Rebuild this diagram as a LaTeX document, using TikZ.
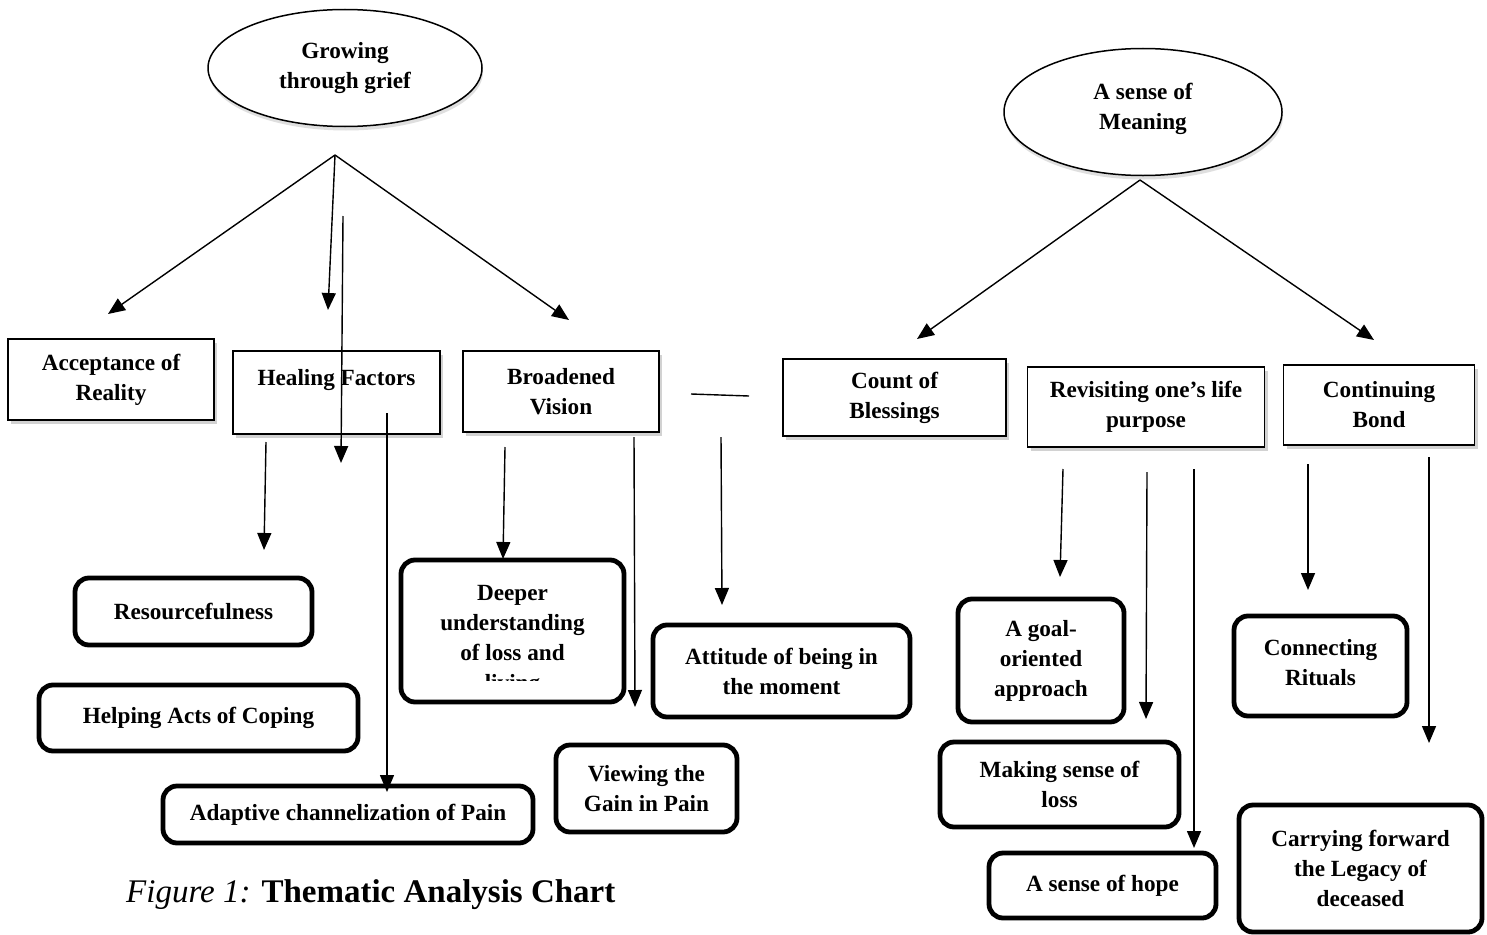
\documentclass[tikz,border=0pt]{standalone}
\usepackage{fontspec}
\setmainfont{Liberation Serif}
\usetikzlibrary{arrows.meta,shapes.geometric,shadows}
\begin{document}
\begin{tikzpicture}[x=1pt,y=-1pt,
  every node/.style={font=\fontsize{23.2}{30}\selectfont\bfseries, align=center, inner sep=0pt},
  oval/.style={ellipse, draw, line width=1.5pt, fill=white,
    drop shadow={shadow xshift=1pt, shadow yshift=-4pt, opacity=0.25}},
  rbox/.style={draw, line width=1.8pt, fill=white,
    drop shadow={shadow xshift=3pt, shadow yshift=-4pt, opacity=0.35}},
  rrbox/.style={draw, line width=4.8pt, rounded corners=14pt, fill=white},
  arr/.style={line width=1.4pt, -{Triangle[length=17pt,width=14pt]}},
  plain/.style={line width=1.4pt}
]
\useasboundingbox (0,0) rectangle (1487,934);
\fill[white] (0,0) rectangle (1487,934);

% ellipses
\node[oval, minimum width=274pt, minimum height=117pt] (grow) at (345,68) {Growing\\through grief};
\node[oval, minimum width=278pt, minimum height=127pt] (mean) at (1143,112) {A sense of\\Meaning\\[-18pt]\mbox{}};

% level-1 boxes
\node[rbox, minimum width=206pt, minimum height=81pt] (acc) at (111,379.5) {Acceptance of\\Reality};
\node[rbox, minimum width=207pt, minimum height=83pt] (heal) at (336.5,392.5) {Healing Factors\\\mbox{}};
\node[rbox, minimum width=196pt, minimum height=81pt] (broad) at (561,391.5) {Broadened\\Vision};
\node[rbox, minimum width=223pt, minimum height=77pt] (count) at (894.5,397.5) {Count of\\Blessings};
\node[rbox, minimum width=237pt, minimum height=80pt] (revis) at (1146,407) {Revisiting one’s life\\purpose};
\node[rbox, minimum width=191pt, minimum height=80pt] (cont) at (1379,405) {Continuing\\Bond};

% level-2 boxes
\node[rrbox, minimum width=237pt, minimum height=67pt] (resou) at (193.5,611.5) {Resourcefulness};
\node[rrbox, minimum width=319pt, minimum height=66pt] (help) at (198.5,718) {Helping Acts of Coping};
\node[rrbox, minimum width=370pt, minimum height=57pt] (adapt) at (348,814.5) {Adaptive channelization of Pain};
\node[rrbox, minimum width=223pt, minimum height=142pt] (deep) at (512.5,631) {};
\begin{scope}
  \clip (401,560) rectangle (624,680);
  \node (deeptxt) at (512.5,640) {Deeper\\understanding\\of loss and\\living};
\end{scope}
\node[rrbox, minimum width=181pt, minimum height=87pt] (view) at (646.5,788.5) {Viewing the\\Gain in Pain};
\node[rrbox, minimum width=257pt, minimum height=92pt] (atti) at (781.5,671) {Attitude of being in\\the moment};
\node[rrbox, minimum width=166pt, minimum height=123pt] (goal) at (1041,660.5) {A goal-\\oriented\\approach};
\node[rrbox, minimum width=239pt, minimum height=85pt] (making) at (1059.5,784.5) {Making sense of\\loss};
\node[rrbox, minimum width=227pt, minimum height=65pt] (hope) at (1102.5,885.5) {A sense of hope};
\node[rrbox, minimum width=173pt, minimum height=100pt] (ritual) at (1320.5,666) {Connecting\\Rituals\\[-22pt]\mbox{}};
\node[rrbox, minimum width=243pt, minimum height=127pt] (legacy) at (1360.5,868.5) {Carrying forward\\the Legacy of\\deceased};

% caption
\node[anchor=base west, font=\fontsize{33}{38}\selectfont] (cap) at (126,902) {\textit{\mdseries Figure 1:} \textbf{Thematic Analysis Chart}};

% connector coordinates
\coordinate (g0) at (335,155);
\coordinate (tAcc) at (108,314);
\coordinate (tHeal) at (328,310);
\coordinate (tBroad) at (569,320);
\coordinate (lA) at (343,216);
\coordinate (lAt) at (341,463);
\coordinate (hB) at (387,413);
\coordinate (hBt) at (387,792);
\coordinate (hC) at (266,442);
\coordinate (hCt) at (264,550);
\coordinate (bA) at (505,447);
\coordinate (bAt) at (503,559);
\coordinate (bB) at (634,437);
\coordinate (bBt) at (635,707);
\coordinate (bC) at (721,437);
\coordinate (bCt) at (722,605);
\coordinate (sA) at (691,394);
\coordinate (sB) at (749,396);
\coordinate (m0) at (1140,180);
\coordinate (tCount) at (917,339);
\coordinate (tCont) at (1374,340);
\coordinate (rA) at (1063,469);
\coordinate (rAt) at (1060,577);
\coordinate (rB) at (1147,472);
\coordinate (rBt) at (1146,719);
\coordinate (rC) at (1194,469);
\coordinate (rCt) at (1194,848);
\coordinate (cA) at (1308,464);
\coordinate (cAt) at (1308,590);
\coordinate (cB) at (1429,457);
\coordinate (cBt) at (1429,743);

% connectors
\draw[arr] (g0) -- (tAcc);
\draw[arr] (g0) -- (tHeal);
\draw[arr] (g0) -- (tBroad);
\draw[arr] (lA) -- (lAt);
\draw[arr] (hB) -- (hBt);
\draw[arr] (hC) -- (hCt);
\draw[arr] (bA) -- (bAt);
\draw[arr] (bB) -- (bBt);
\draw[arr] (bC) -- (bCt);
\draw[plain] (sA) -- (sB);
\draw[arr] (m0) -- (tCount);
\draw[arr] (m0) -- (tCont);
\draw[arr] (rA) -- (rAt);
\draw[arr] (rB) -- (rBt);
\draw[arr] (rC) -- (rCt);
\draw[arr] (cA) -- (cAt);
\draw[arr] (cB) -- (cBt);
\end{tikzpicture}
\end{document}
